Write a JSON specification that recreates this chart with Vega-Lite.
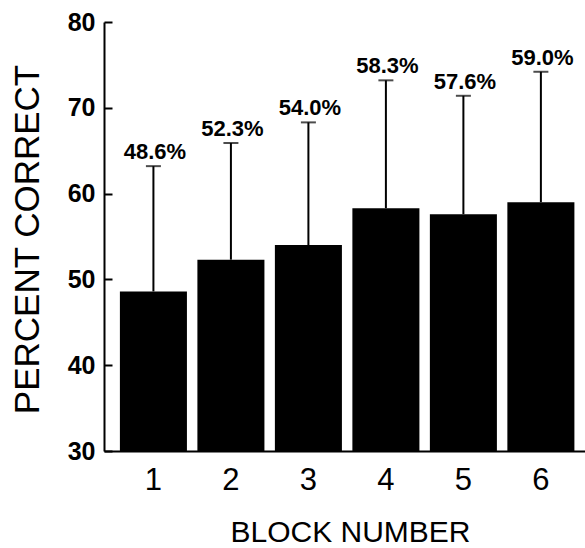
{
  "$schema": "https://vega.github.io/schema/vega-lite/v6.json",
  "width": 481,
  "height": 429,
  "autosize": {"type": "none"},
  "padding": {"left": 104, "top": 22, "right": 0, "bottom": 97},
  "background": "white",
  "config": {"view": {"stroke": null}, "font": "Liberation Sans"},
  "data": {
    "values": [
      {"block": "1", "pct": 48.6, "upper": 63.2},
      {"block": "2", "pct": 52.3, "upper": 65.9},
      {"block": "3", "pct": 54.0, "upper": 68.3},
      {"block": "4", "pct": 58.3, "upper": 73.2},
      {"block": "5", "pct": 57.6, "upper": 71.4},
      {"block": "6", "pct": 59.0, "upper": 74.2}
    ]
  },
  "transform": [
    {"calculate": "format(datum.pct, '.1f') + '%'", "as": "label"}
  ],
  "encoding": {
    "x": {
      "field": "block",
      "type": "ordinal",
      "scale": {"paddingInner": 0.135, "paddingOuter": 0.171, "align": 0.6},
      "axis": {
        "title": "BLOCK NUMBER",
        "labelAngle": 0,
        "ticks": false,
        "domainColor": "black",
        "domainWidth": 2,
        "labelFont": "Liberation Sans",
        "labelFontSize": 31,
        "labelColor": "black",
        "labelPadding": 14,
        "titleFont": "Liberation Sans",
        "titleFontSize": 30,
        "titleFontWeight": "normal",
        "titleColor": "black",
        "titleX": 246,
        "titleY": 90.5,
        "titleBaseline": "alphabetic",
        "titleAlign": "center"
      }
    },
    "y": {
      "field": "pct",
      "type": "quantitative",
      "title": "PERCENT CORRECT",
      "scale": {"domain": [30, 80], "nice": false, "zero": false},
      "axis": {
        "title": "PERCENT CORRECT",
        "values": [30, 40, 50, 60, 70, 80],
        "grid": false,
        "domainColor": "black",
        "domainWidth": 2,
        "tickColor": "black",
        "tickWidth": 2,
        "tickSize": -8,
        "labelPadding": 17,
        "labelFont": "Liberation Sans",
        "labelFontSize": 25,
        "labelFontWeight": "bold",
        "labelColor": "black",
        "labelFlush": false,
        "labelOverlap": false,
        "titleFont": "Liberation Sans",
        "titleFontSize": 35,
        "titleFontWeight": "normal",
        "titleColor": "black",
        "titleAngle": 270,
        "titleAlign": "center",
        "titleBaseline": "alphabetic",
        "titleX": -66,
        "titleY": 217
      }
    }
  },
  "layer": [
    {
      "mark": {"type": "rule", "strokeWidth": 2, "color": "black"},
      "encoding": {
        "y2": {"field": "upper"}
      }
    },
    {
      "mark": {"type": "bar", "color": "black"},
      "encoding": {
        "y2": {"datum": 30}
      }
    },
    {
      "mark": {"type": "tick", "color": "black", "thickness": 2, "size": 15},
      "encoding": {
        "y": {"field": "upper", "type": "quantitative", "title": "PERCENT CORRECT"}
      }
    },
    {
      "mark": {
        "type": "text",
        "font": "Liberation Sans",
        "fontSize": 22,
        "fontWeight": "bold",
        "baseline": "alphabetic",
        "dy": -7,
        "dx": 1.5,
        "color": "black"
      },
      "encoding": {
        "y": {"field": "upper", "type": "quantitative", "title": "PERCENT CORRECT"},
        "text": {"field": "label"}
      }
    }
  ]
}
